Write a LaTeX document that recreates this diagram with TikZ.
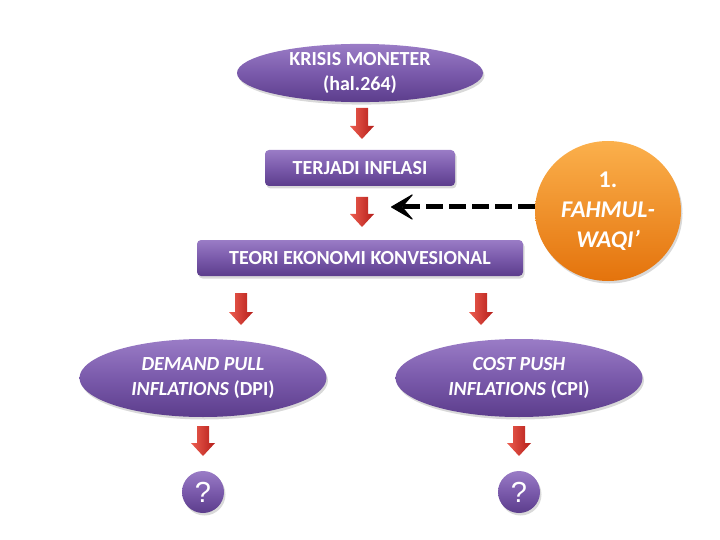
\documentclass[tikz,border=0pt]{standalone}
\usepackage{fontspec}
\setmainfont{Carlito}
\newfontfamily\qfont{Liberation Sans}
\usetikzlibrary{shapes.geometric,shadows,arrows.meta}
\definecolor{purpT}{HTML}{9A7CC6}
\definecolor{purpB}{HTML}{5C3D8C}
\definecolor{purpM}{HTML}{7A5AAB}
\definecolor{orT}{HTML}{FBB04C}
\definecolor{orB}{HTML}{E4730C}
\definecolor{redT}{HTML}{EC5E50}
\definecolor{redB}{HTML}{B51D19}
\tikzset{
  x=1pt,y=-1pt,
  shad/.style={drop shadow={shadow xshift=1.5pt,shadow yshift=-2.5pt,opacity=.3}},
  purpfill/.style={top color=purpT,bottom color=purpB,middle color=purpM,draw=none,shad},
  txt/.style={text=white,font=\bfseries\fontsize{20}{25}\selectfont,align=center},
  oval/.style={purpfill,ellipse,inner sep=0pt},
  box/.style={purpfill,rounded corners=4pt,inner sep=0pt},
  redarr/.style={left color=redT,right color=redB,draw=none},
  qcirc/.style={purpfill,circle,minimum size=42pt,inner sep=0pt,text=white,
    font=\qfont\fontsize{29}{30}\selectfont},
}
% red block arrow: #1 = x centre, #2 = top y, #3 = total length
\newcommand\redblock[3]{%
  \path[redarr] (#1-6,#2) -- (#1+6,#2) -- (#1+6,#2+#3-13) -- (#1+12,#2+#3-13)
    -- (#1,#2+#3) -- (#1-12,#2+#3-13) -- (#1-6,#2+#3-13) -- cycle;}
\begin{document}
\begin{tikzpicture}
\useasboundingbox (0,0) rectangle (720,540);
\node[oval,minimum width=246pt,minimum height=50pt,txt] (krisis) at (360,73) {KRISIS MONETER\\(hal.264)};
\redblock{362}{108}{31}
\node[box,minimum width=190pt,minimum height=36pt,txt] (terjadi) at (360,168) {TERJADI INFLASI};
\redblock{362}{197}{30}
\node[box,minimum width=326pt,minimum height=36pt,txt] (teori) at (360,258) {TEORI EKONOMI KONVESIONAL};
\node[ellipse,top color=orT,bottom color=orB,draw=none,minimum width=146pt,minimum height=140pt,
  inner sep=0pt,shad,txt,font=\bfseries\fontsize{24}{30}\selectfont] (fahmul) at (608,211) {1.\\\textit{FAHMUL-}\\\textit{WAQI’}};
\coordinate (tgt) at (391,207);
\draw[line width=5pt,dash pattern=on 17pt off 6pt,
  -{Stealth[length=24pt,width=28pt,inset=12pt,round,line width=1pt]}]
  (fahmul.west |- tgt) -- (tgt);
\redblock{241}{293}{32}
\redblock{481}{293}{32}
\node[oval,minimum width=247pt,minimum height=78pt,txt,font=\bfseries\fontsize{20}{25}\selectfont] (dpi) at (203,378) {\textit{DEMAND PULL}\\\textit{INFLATIONS} (DPI)};
\node[oval,minimum width=247pt,minimum height=78pt,txt,font=\bfseries\fontsize{20}{25}\selectfont] (cpi) at (519,378) {\textit{COST PUSH}\\\textit{INFLATIONS} (CPI)};
\redblock{203}{426}{30}
\redblock{519}{426}{30}
\node[qcirc] (q1) at (203,492) {?};
\node[qcirc] (q2) at (519,492) {?};
\end{tikzpicture}
\end{document}
